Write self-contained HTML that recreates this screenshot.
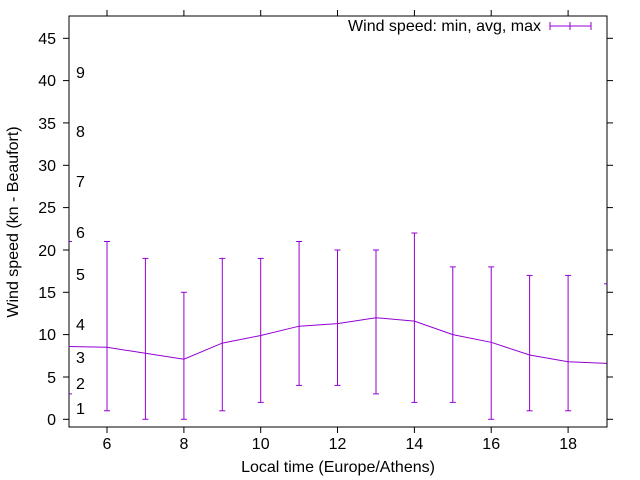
<!DOCTYPE html>
<html><head><meta charset="utf-8"><style>body{margin:0;background:#fff}svg{display:block}text{font-family:"Liberation Sans",sans-serif;font-size:16px;fill:#000}</style></head><body>
<svg width="640" height="480" xmlns="http://www.w3.org/2000/svg">
<g stroke="#000" stroke-width="1">
<line x1="63" y1="419.3" x2="69" y2="419.3"/><line x1="607" y1="419.3" x2="613" y2="419.3"/>
<line x1="63" y1="377" x2="69" y2="377"/><line x1="607" y1="377" x2="613" y2="377"/>
<line x1="63" y1="334.6" x2="69" y2="334.6"/><line x1="607" y1="334.6" x2="613" y2="334.6"/>
<line x1="63" y1="292.3" x2="69" y2="292.3"/><line x1="607" y1="292.3" x2="613" y2="292.3"/>
<line x1="63" y1="250" x2="69" y2="250"/><line x1="607" y1="250" x2="613" y2="250"/>
<line x1="63" y1="207.6" x2="69" y2="207.6"/><line x1="607" y1="207.6" x2="613" y2="207.6"/>
<line x1="63" y1="165.3" x2="69" y2="165.3"/><line x1="607" y1="165.3" x2="613" y2="165.3"/>
<line x1="63" y1="122.9" x2="69" y2="122.9"/><line x1="607" y1="122.9" x2="613" y2="122.9"/>
<line x1="63" y1="80.6" x2="69" y2="80.6"/><line x1="607" y1="80.6" x2="613" y2="80.6"/>
<line x1="63" y1="38.3" x2="69" y2="38.3"/><line x1="607" y1="38.3" x2="613" y2="38.3"/>
<line x1="107" y1="427" x2="107" y2="433"/><line x1="107" y1="16" x2="107" y2="10"/>
<line x1="183.9" y1="427" x2="183.9" y2="433"/><line x1="183.9" y1="16" x2="183.9" y2="10"/>
<line x1="260.7" y1="427" x2="260.7" y2="433"/><line x1="260.7" y1="16" x2="260.7" y2="10"/>
<line x1="337.5" y1="427" x2="337.5" y2="433"/><line x1="337.5" y1="16" x2="337.5" y2="10"/>
<line x1="414.4" y1="427" x2="414.4" y2="433"/><line x1="414.4" y1="16" x2="414.4" y2="10"/>
<line x1="491.2" y1="427" x2="491.2" y2="433"/><line x1="491.2" y1="16" x2="491.2" y2="10"/>
<line x1="568.1" y1="427" x2="568.1" y2="433"/><line x1="568.1" y1="16" x2="568.1" y2="10"/>
<rect x="69" y="16" width="538" height="411" fill="none"/>
</g>
<g text-anchor="end">
<text x="56" y="425">0</text><text x="56" y="383">5</text><text x="56" y="340">10</text><text x="56" y="298">15</text><text x="56" y="256">20</text><text x="56" y="213">25</text><text x="56" y="171">30</text><text x="56" y="129">35</text><text x="56" y="86">40</text><text x="56" y="44">45</text>
</g>
<g text-anchor="middle">
<text x="107" y="449">6</text><text x="183.9" y="449">8</text><text x="260.7" y="449">10</text><text x="337.5" y="449">12</text><text x="414.4" y="449">14</text><text x="491.2" y="449">16</text><text x="568.1" y="449">18</text>
<text x="338" y="472">Local time (Europe/Athens)</text>
<text transform="translate(18,222) rotate(-90)">Wind speed (kn - Beaufort)</text>
</g>
<g>
<text x="76" y="414">1</text><text x="76" y="389">2</text><text x="76" y="363">3</text><text x="76" y="330">4</text><text x="76" y="280">5</text><text x="76" y="238">6</text><text x="76" y="187">7</text><text x="76" y="137">8</text><text x="76" y="78">9</text>
</g>
<g stroke="#9400d3" fill="none">
<line x1="69" y1="393.9" x2="72" y2="393.9"/><line x1="69" y1="241.5" x2="72" y2="241.5"/>
<line x1="107" y1="410.8" x2="107" y2="241.5"/><line x1="104" y1="410.8" x2="110" y2="410.8"/><line x1="104" y1="241.5" x2="110" y2="241.5"/>
<line x1="145.4" y1="419.3" x2="145.4" y2="258.4"/><line x1="142.4" y1="419.3" x2="148.4" y2="419.3"/><line x1="142.4" y1="258.4" x2="148.4" y2="258.4"/>
<line x1="183.9" y1="419.3" x2="183.9" y2="292.3"/><line x1="180.9" y1="419.3" x2="186.9" y2="419.3"/><line x1="180.9" y1="292.3" x2="186.9" y2="292.3"/>
<line x1="222.3" y1="410.8" x2="222.3" y2="258.4"/><line x1="219.3" y1="410.8" x2="225.3" y2="410.8"/><line x1="219.3" y1="258.4" x2="225.3" y2="258.4"/>
<line x1="260.7" y1="402.4" x2="260.7" y2="258.4"/><line x1="257.7" y1="402.4" x2="263.7" y2="402.4"/><line x1="257.7" y1="258.4" x2="263.7" y2="258.4"/>
<line x1="299.1" y1="385.4" x2="299.1" y2="241.5"/><line x1="296.1" y1="385.4" x2="302.1" y2="385.4"/><line x1="296.1" y1="241.5" x2="302.1" y2="241.5"/>
<line x1="337.5" y1="385.4" x2="337.5" y2="250"/><line x1="334.5" y1="385.4" x2="340.5" y2="385.4"/><line x1="334.5" y1="250" x2="340.5" y2="250"/>
<line x1="376" y1="393.9" x2="376" y2="250"/><line x1="373" y1="393.9" x2="379" y2="393.9"/><line x1="373" y1="250" x2="379" y2="250"/>
<line x1="414.4" y1="402.4" x2="414.4" y2="233"/><line x1="411.4" y1="402.4" x2="417.4" y2="402.4"/><line x1="411.4" y1="233" x2="417.4" y2="233"/>
<line x1="452.8" y1="402.4" x2="452.8" y2="266.9"/><line x1="449.8" y1="402.4" x2="455.8" y2="402.4"/><line x1="449.8" y1="266.9" x2="455.8" y2="266.9"/>
<line x1="491.2" y1="419.3" x2="491.2" y2="266.9"/><line x1="488.2" y1="419.3" x2="494.2" y2="419.3"/><line x1="488.2" y1="266.9" x2="494.2" y2="266.9"/>
<line x1="529.6" y1="410.8" x2="529.6" y2="275.4"/><line x1="526.6" y1="410.8" x2="532.6" y2="410.8"/><line x1="526.6" y1="275.4" x2="532.6" y2="275.4"/>
<line x1="568.1" y1="410.8" x2="568.1" y2="275.4"/><line x1="565.1" y1="410.8" x2="571.1" y2="410.8"/><line x1="565.1" y1="275.4" x2="571.1" y2="275.4"/>
<line x1="604" y1="283.8" x2="607" y2="283.8"/>
<path d="M68.6 346.5L107 347.3L145.4 353.3L183.9 359.2L222.3 343.1L260.7 335.5L299.1 326.2L337.5 323.6L376 317.7L414.4 321.1L452.8 334.6L491.2 342.3L529.6 355L568.1 361.7L606.5 363.4"/>
<line x1="550" y1="26" x2="591" y2="26"/><line x1="550" y1="22" x2="550" y2="30"/><line x1="591" y1="22" x2="591" y2="30"/><line x1="570" y1="22" x2="570" y2="30"/>
</g>
<text x="541" y="31" text-anchor="end">Wind speed: min, avg, max</text>
</svg></body></html>
